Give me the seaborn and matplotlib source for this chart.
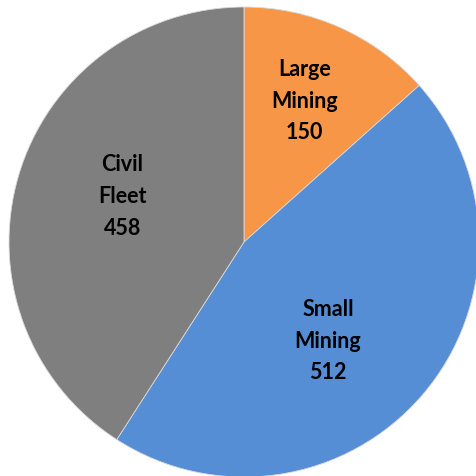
import numpy as np
import matplotlib
matplotlib.use("Agg")
import matplotlib.pyplot as plt
import seaborn as sns

categories = ["Large\nMining", "Small\nMining", "Civil\nFleet"]
values = [150, 512, 458]
colors = ["#F79646", "#558ED5", "#7F7F7F"]

sns.set_theme(style="white")
plt.rcParams["font.family"] = ["Lato", "DejaVu Sans"]

fig = plt.figure(figsize=(4.77, 4.77), dpi=100)
cx, cy, r = 244 / 477, (477 - 243) / 477, 235 / 477
ax = fig.add_axes([cx - r, cy - r, 2 * r, 2 * r])
pal = sns.color_palette(colors)
wedges, _ = ax.pie(values, colors=pal, startangle=90, counterclock=False,
                   radius=1.0, wedgeprops=dict(edgecolor="#d9d9d9", linewidth=0.6))
ax.set_xlim(-1, 1)
ax.set_ylim(-1, 1)
ax.set_aspect("equal")
ax.axis("off")

# label placement (radial factor, angular offset in degrees)
placement = [(0.655, 1.0), (0.55, -9.0), (0.555, -4.5)]
for w, cat, val, (rf, off) in zip(wedges, categories, values, placement):
    ang = np.deg2rad((w.theta1 + w.theta2) / 2 + off)
    ax.text(rf * np.cos(ang), rf * np.sin(ang), f"{cat}\n{val}",
            ha="center", va="center", fontsize=15.5, fontweight="bold",
            color="black", linespacing=1.62)

fig.savefig("out.png", dpi=100)
